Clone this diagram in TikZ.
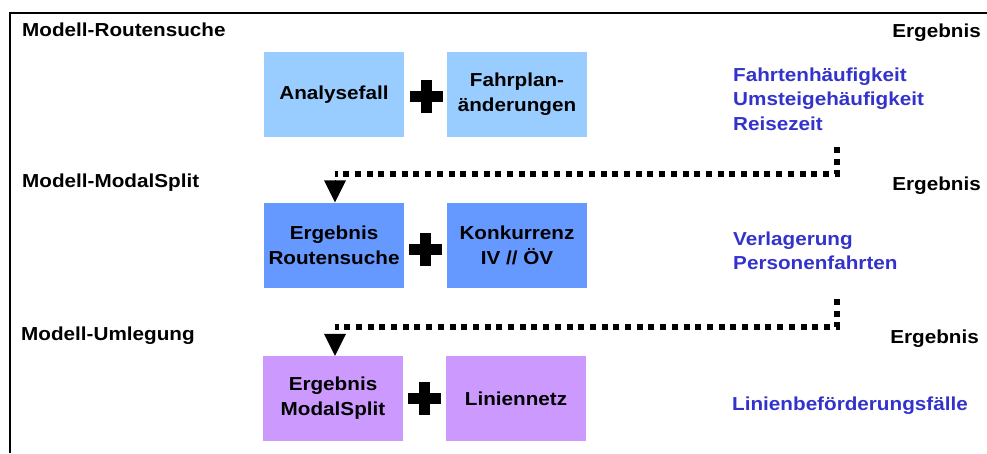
\documentclass[tikz,border=0pt]{standalone}
\usepackage{fontspec}
\setmainfont{Liberation Sans}[FakeStretch=1.1]
\usetikzlibrary{arrows.meta}
\definecolor{lblue}{HTML}{99CCFF}
\definecolor{mblue}{HTML}{6699FF}
\definecolor{lviolet}{HTML}{CC99FF}
\definecolor{restxt}{HTML}{3333CC}
\tikzset{
  txt/.style={inner sep=0pt, font=\fontsize{18.8}{25}\selectfont\bfseries},
  modlabel/.style={txt, anchor=base west},
  reslabel/.style={txt, anchor=base east},
  resitem/.style={txt, anchor=base west, text=restxt},
  boxnode/.style={txt, minimum width=140pt, minimum height=85pt, align=center},
  dotline/.style={line width=5.5pt, dash pattern=on 6pt off 5.7pt},
  tipline/.style={line width=0.2pt, -{Triangle[width=22pt,length=22pt,line width=0pt]}},
  plussign/.pic={\fill (-16.5,-5.5) rectangle (16.5,5.5); \fill (-5.5,-16.5) rectangle (5.5,16.5);}
}
\begin{document}
\begin{tikzpicture}[x=1pt,y=-1pt]
\useasboundingbox (0,0) rectangle (987,453);
% frame
\draw[line width=1.8pt] (10,453) -- (10,12.8) -- (987,12.8);
% section labels
\node[modlabel] (m1) at (22,36.7) {Modell-Routensuche};
\node[modlabel] (m2) at (22,187.3) {Modell-ModalSplit};
\node[modlabel] (m3) at (21,340) {Modell-Umlegung};
\node[reslabel] (e1) at (981,37.3) {Ergebnis};
\node[reslabel] (e2) at (981,190) {Ergebnis};
\node[reslabel] (e3) at (979,343.3) {Ergebnis};
% result items
\node[resitem] (r11) at (733,81) {Fahrtenhäufigkeit};
\node[resitem] (r12) at (733,105.5) {Umsteigehäufigkeit};
\node[resitem] (r13) at (733,130) {Reisezeit};
\node[resitem] (r21) at (733,245) {Verlagerung};
\node[resitem] (r22) at (733,269.3) {Personenfahrten};
\node[resitem] (r31) at (732,410) {Linienbeförderungsfälle};
% boxes
\node[boxnode, fill=lblue] (b11) at (334,94.5) {Analysefall};
\node[boxnode, fill=lblue] (b12) at (517,94.5) {Fahrplan-\\änderungen};
\node[boxnode, fill=mblue] (b21) at (334,245) {Ergebnis\\Routensuche};
\node[boxnode, fill=mblue] (b22) at (517,245) {Konkurrenz\\IV // ÖV};
\node[boxnode, fill=lviolet] (b31) at (333,398.5) {Ergebnis\\ModalSplit};
\node[boxnode, fill=lviolet] (b32) at (516,398.5) {Liniennetz};
% plus signs
\pic at (426.5,96.5) {plussign};
\pic at (425.5,249.5) {plussign};
\pic at (424.5,398) {plussign};
% connectors
\coordinate (s1) at (837,147);
\coordinate (c1) at (335,174);
\coordinate (t1) at (335,181);
\draw[dotline] (s1) |- (c1);
\draw[tipline] (t1) -- (b21.north -| t1);
\coordinate (s2) at (837,299);
\coordinate (c2) at (335,327);
\coordinate (t2) at (335,334);
\draw[dotline] (s2) |- (c2);
\draw[tipline] (t2) -- (b31.north -| t2);
\end{tikzpicture}
\end{document}
